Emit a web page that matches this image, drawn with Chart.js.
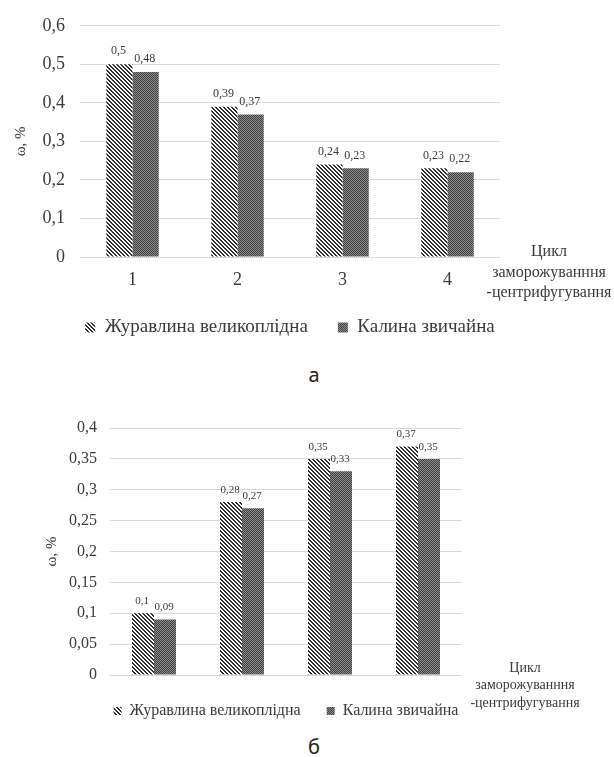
<!DOCTYPE html>
<html>
<head>
<meta charset="utf-8">
<script src="https://cdn.jsdelivr.net/npm/chart.js@4/dist/chart.umd.min.js"></script>
<style>
  html, body { margin: 0; padding: 0; background: #fff; width: 614px; height: 757px; overflow: hidden; }
  .panel { position: absolute; left: 0; }
  .cap { position: absolute; left: 0; width: 628px; text-align: center; font-family: "Noto Sans", sans-serif; font-size: 20px; line-height: 27px; color: #222; }
</style>
</head>
<body>
<div class="panel" style="top:0"><canvas id="chartA" width="614" height="347"></canvas></div>
<div class="cap" style="top:361px">а</div>
<div class="panel" style="top:395px"><canvas id="chartB" width="614" height="334"></canvas></div>
<div class="cap" style="top:733px">б</div>

<script>
// Freeze–centrifuge cycles
const cycles = ['1', '2', '3', '4'];
const seriesNames = ['Журавлина великоплідна', 'Калина звичайна'];

// Panel а
const cranberryA = [0.5, 0.39, 0.24, 0.23];
const viburnumA  = [0.48, 0.37, 0.23, 0.22];
const yMaxA = 0.6, yStepA = 0.1;

// Panel б
const cranberryB = [0.1, 0.28, 0.35, 0.37];
const viburnumB  = [0.09, 0.27, 0.33, 0.35];
const yMaxB = 0.4, yStepB = 0.05;

const yAxisTitle = 'ω, %';
const xAxisTitleLines = ['Цикл', 'заморожуванння', '-центрифугування'];

const SERIF = 'Liberation Serif, DejaVu Serif, serif';
const TEXT = '#3a3a3a';

// decimal comma formatting
const fmt = v => String(Math.round(v * 100) / 100).replace('.', ',');

// diagonal hatch fill
function hatchPattern() {
  const c = document.createElement('canvas');
  c.width = 4; c.height = 4;
  const g = c.getContext('2d');
  g.fillStyle = '#ffffff'; g.fillRect(0, 0, 4, 4);
  g.fillStyle = '#2f2f2f';
  for (let i = 0; i < 4; i++) { g.fillRect(i, i, 1, 1); g.fillRect((i + 1) % 4, i, 1, 1); }
  return g.createPattern(c, 'repeat');
}
// dense checker fill
function checkerPattern() {
  const c = document.createElement('canvas');
  c.width = 2; c.height = 2;
  const g = c.getContext('2d');
  g.fillStyle = '#8e8e8e'; g.fillRect(0, 0, 2, 2);
  g.fillStyle = '#3e3e3e'; g.fillRect(0, 0, 1, 1); g.fillRect(1, 1, 1, 1);
  return g.createPattern(c, 'repeat');
}

// value labels above each bar
const valueLabels = {
  id: 'valueLabels',
  afterDatasetsDraw(chart, args, o) {
    const ctx = chart.ctx;
    ctx.save();
    ctx.font = o.size + 'px ' + SERIF;
    ctx.fillStyle = TEXT;
    ctx.textAlign = 'center';
    ctx.textBaseline = 'middle';
    chart.data.datasets.forEach((ds, di) => {
      chart.getDatasetMeta(di).data.forEach((bar, i) => {
        ctx.fillText(fmt(ds.data[i]), bar.x - 1, bar.y - o.offset);
      });
    });
    ctx.restore();
  }
};

// category-axis title set to the right of the plot
const sideTitle = {
  id: 'sideTitle',
  afterDraw(chart, args, o) {
    const { ctx, chartArea } = chart;
    ctx.save();
    ctx.font = o.size + 'px ' + SERIF;
    ctx.fillStyle = TEXT;
    ctx.textAlign = 'center';
    ctx.textBaseline = 'middle';
    xAxisTitleLines.forEach((t, i) => {
      ctx.fillText(t, chartArea.right + o.dx, chartArea.bottom + o.dy + i * o.gap);
    });
    ctx.restore();
  }
};

// keep the legend centred under the plot area
const legendOnPlot = {
  id: 'legendOnPlot',
  afterLayout(chart) {
    const lg = chart.legend;
    if (!lg) return;
    const shift = (chart.chartArea.left + chart.chartArea.right) / 2 - (lg.left + lg.right) / 2;
    lg.left += shift;
    lg.right += shift;
  }
};

function makeChart(id, dataA, dataB, cfg) {
  return new Chart(document.getElementById(id), {
    type: 'bar',
    data: {
      labels: cycles,
      datasets: [
        { label: seriesNames[0], data: dataA, backgroundColor: hatchPattern(), borderWidth: 0 },
        { label: seriesNames[1], data: dataB, backgroundColor: checkerPattern(), borderWidth: 0 }
      ]
    },
    options: {
      responsive: false,
      animation: false,
      devicePixelRatio: 1,
      layout: { padding: { left: 0, right: cfg.padRight, top: cfg.padTop, bottom: 0 } },
      datasets: { bar: { categoryPercentage: 0.5, barPercentage: 1 } },
      scales: {
        x: {
          grid: { display: false, drawTicks: false },
          border: { display: false },
          ticks: { font: { family: SERIF, size: cfg.xTickSize }, color: cfg.xTickColor, padding: cfg.xTickPad },
          afterFit(s) { s.height = cfg.xHeight; }
        },
        y: {
          min: 0,
          max: cfg.yMax,
          ticks: { stepSize: cfg.yStep, font: { family: SERIF, size: cfg.yTickSize }, color: TEXT, padding: cfg.yTickPad, callback: v => fmt(v) },
          grid: { color: '#d9d9d9', lineWidth: 1, drawTicks: false },
          border: { display: false },
          title: { display: true, text: yAxisTitle, font: { family: SERIF, size: 15 }, color: TEXT, padding: { top: cfg.yTitlePad, bottom: 0 } },
          afterFit(s) { s.width = cfg.yWidth; }
        }
      },
      plugins: {
        legend: {
          position: 'bottom',
          labels: { boxWidth: cfg.box, boxHeight: cfg.box, padding: cfg.legendPad, font: { family: SERIF, size: cfg.legendSize }, color: TEXT }
        },
        tooltip: { enabled: false },
        valueLabels: { size: cfg.valueSize, offset: cfg.valueOffset },
        sideTitle: { size: cfg.titleSize, dx: cfg.titleDx, dy: cfg.titleDy, gap: cfg.titleGap }
      }
    },
    plugins: [valueLabels, sideTitle, legendOnPlot]
  });
}

makeChart('chartA', cranberryA, viburnumA, {
  padRight: 114, padTop: 21,
  xTickSize: 18, xTickColor: TEXT, xTickPad: 12, xHeight: 31,
  yMax: yMaxA, yStep: yStepA, yTickSize: 18, yTickPad: 15, yTitlePad: 12, yWidth: 80,
  box: 10, legendPad: 30, legendSize: 19,
  valueSize: 12, valueOffset: 13,
  titleSize: 16, titleDx: 49, titleDy: -5, titleGap: 20.5
});

makeChart('chartB', cranberryB, viburnumB, {
  padRight: 152, padTop: 33,
  xTickSize: 10, xTickColor: '#808080', xTickPad: 8, xHeight: 2,
  yMax: yMaxB, yStep: yStepB, yTickSize: 16, yTickPad: 13, yTitlePad: 43, yWidth: 110,
  box: 8, legendPad: 26, legendSize: 16,
  valueSize: 11, valueOffset: 12,
  titleSize: 14, titleDx: 63, titleDy: -7, titleGap: 17.5
});
</script>
</body>
</html>
